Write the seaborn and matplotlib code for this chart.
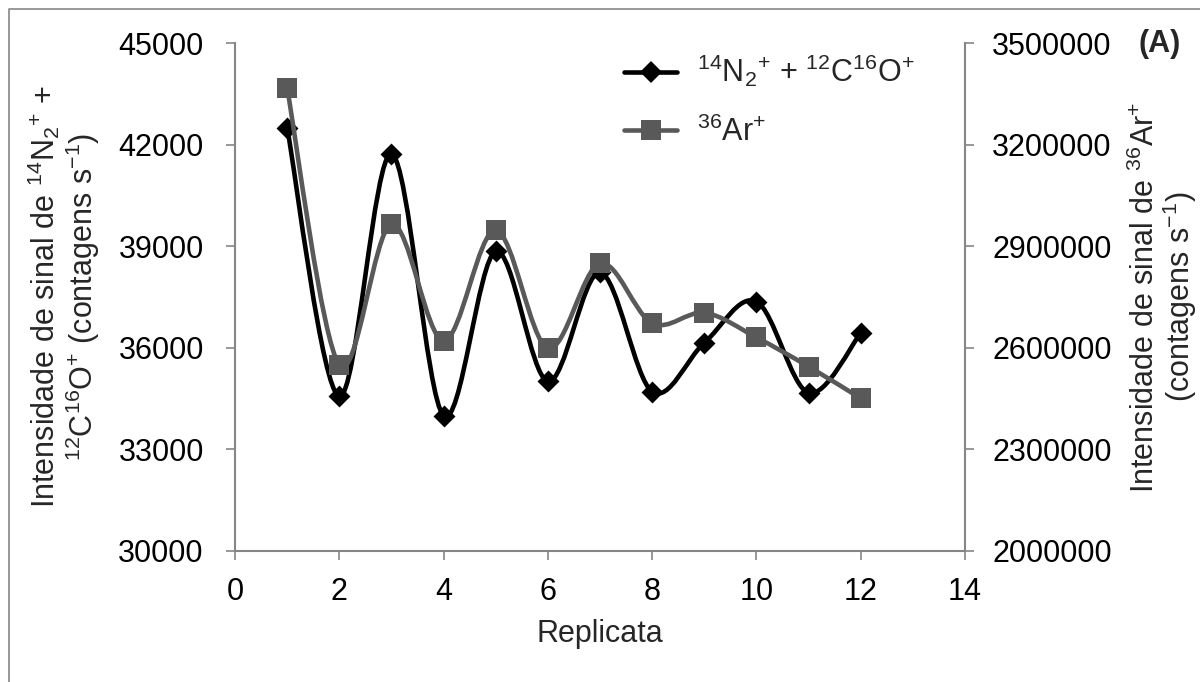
import numpy as np
import pandas as pd
import matplotlib
matplotlib.use("Agg")
import matplotlib.pyplot as plt
from matplotlib.path import Path
from matplotlib.patches import PathPatch
from matplotlib.lines import Line2D
import seaborn as sns

replicata = [1, 2, 3, 4, 5, 6, 7, 8, 9, 10, 11, 12]
n2_co = [42500, 34570, 41730, 34000, 38850, 35010, 38230, 34710, 36150, 37370, 34670, 36440]
ar36 = [3367000, 2550000, 2966000, 2621000, 2948000, 2599000, 2850000, 2673000, 2704000, 2631000, 2545000, 2451000]
x_ticks = [0, 2, 4, 6, 8, 10, 12, 14]
left_ticks = [30000, 33000, 36000, 39000, 42000, 45000]
right_ticks = [2000000, 2300000, 2600000, 2900000, 3200000, 3500000]

sns.set_theme(style="white")
plt.rcParams["font.family"] = ["Liberation Sans", "DejaVu Sans"]
plt.rcParams["mathtext.fontset"] = "custom"
plt.rcParams["mathtext.rm"] = "Liberation Sans"
plt.rcParams["mathtext.it"] = "Liberation Sans:italic"
plt.rcParams["mathtext.bf"] = "Liberation Sans:bold"

FS = 22
GRID = "#868686"
BLACK = "#000000"
GRAY = "#595959"

df = pd.DataFrame({"Replicata": replicata, "N2": n2_co, "Ar": ar36})

fig = plt.figure(figsize=(12, 6.82), dpi=100)
fig.patch.set_facecolor("white")
# outer chart-area border (only top and left edges are inside the picture)
fig.add_artist(Line2D([9 / 1200, 9 / 1200, 1.0], [0.0, 1 - 9 / 682, 1 - 9 / 682],
                      transform=fig.transFigure, color=GRID, linewidth=1.2))

ax = fig.add_axes([235 / 1200, 1 - 551 / 682, 730 / 1200, (551 - 43.3) / 682])
ax2 = ax.twinx()


def smooth_path(xs, ys):
    pts = np.column_stack([xs, ys]).astype(float)
    n = len(pts)
    verts = [pts[0]]
    codes = [Path.MOVETO]
    for i in range(n - 1):
        p0 = pts[i - 1] if i > 0 else pts[i]
        p1 = pts[i]
        p2 = pts[i + 1]
        p3 = pts[i + 2] if i + 2 < n else pts[i + 1]
        c1 = p1 + (p2 - p0) / 6.0
        c2 = p2 - (p3 - p1) / 6.0
        verts += [c1, c2, p2]
        codes += [Path.CURVE4] * 3
    return Path(verts, codes)


ax.add_patch(PathPatch(smooth_path(df["Replicata"], df["N2"]), fill=False,
                       edgecolor=BLACK, linewidth=3.3, capstyle="round", joinstyle="round", zorder=2))
sns.scatterplot(data=df, x="Replicata", y="N2", ax=ax, marker="D", s=125, color=BLACK,
                edgecolor=BLACK, linewidth=0, zorder=3, legend=False)

ax2.add_patch(PathPatch(smooth_path(df["Replicata"], df["Ar"]), fill=False,
                        edgecolor=GRAY, linewidth=3.3, capstyle="round", joinstyle="round", zorder=2))
sns.scatterplot(data=df, x="Replicata", y="Ar", ax=ax2, marker="s", s=210, color=GRAY,
                edgecolor=GRAY, linewidth=0, zorder=3, legend=False)

ax.set_xlim(0, 14)
ax.set_ylim(30000, 45000)
ax2.set_ylim(2000000, 3500000)
ax.set_xticks(x_ticks)
ax.set_yticks(left_ticks)
ax2.set_yticks(right_ticks)
ax.set_xticklabels([str(v) for v in x_ticks])
ax.set_yticklabels([str(v) for v in left_ticks])
ax2.set_yticklabels([str(v) for v in right_ticks])

for a in (ax, ax2):
    for s in a.spines.values():
        s.set_visible(False)
    a.grid(False)
    a.set_facecolor("none")
ax.spines["left"].set_visible(True)
ax.spines["bottom"].set_visible(True)
ax2.spines["right"].set_visible(True)
for s in (ax.spines["left"], ax.spines["bottom"], ax2.spines["right"]):
    s.set_color(GRID)
    s.set_linewidth(1.5)

ax.tick_params(axis="y", which="both", left=True, direction="out", length=6.5, width=1.2,
               color=GRID, labelsize=FS, labelcolor="black", pad=16)
ax.tick_params(axis="x", which="both", bottom=True, direction="out", length=6.5, width=1.2,
               color=GRID, labelsize=FS, labelcolor="black", pad=12)
ax2.tick_params(axis="y", which="both", right=True, direction="out", length=6.5, width=1.2,
                color=GRID, labelsize=FS, labelcolor="black", pad=13)

ax.set_xlabel("Replicata", fontsize=FS, labelpad=9)
ax.set_ylabel("Intensidade de sinal de $^{14}$N$_2$$^{+}$ +\n$^{12}$C$^{16}$O$^{+}$ (contagens s$^{-1}$)",
              fontsize=FS, linespacing=1.05, labelpad=12, ha="center")
ax2.set_ylabel("Intensidade de sinal de $^{36}$Ar$^{+}$\n(contagens s$^{-1}$)",
               fontsize=FS, linespacing=0.98, labelpad=13, ha="center", rotation=90)
ax2.yaxis.set_label_position("right")

handles = [
    Line2D([0], [0], color=BLACK, lw=3.3, marker="D", markersize=11, markeredgewidth=0),
    Line2D([0], [0], color=GRAY, lw=3.3, marker="s", markersize=14.5, markeredgewidth=0),
]
labels = ["$^{14}$N$_2$$^{+}$ + $^{12}$C$^{16}$O$^{+}$", "$^{36}$Ar$^{+}$"]
fig.legend(handles, labels, loc="upper left", bbox_to_anchor=(624 / 1200, 1 - 53 / 682),
           frameon=False, fontsize=FS, handlelength=1.75, handletextpad=0.65, labelspacing=0.88,
           borderaxespad=0, borderpad=0)

fig.text(1138 / 1200, 1 - 44 / 682, "(A)", fontsize=FS, fontweight="bold", ha="left", va="center")

fig.savefig("out.png", dpi=100, facecolor="white")
